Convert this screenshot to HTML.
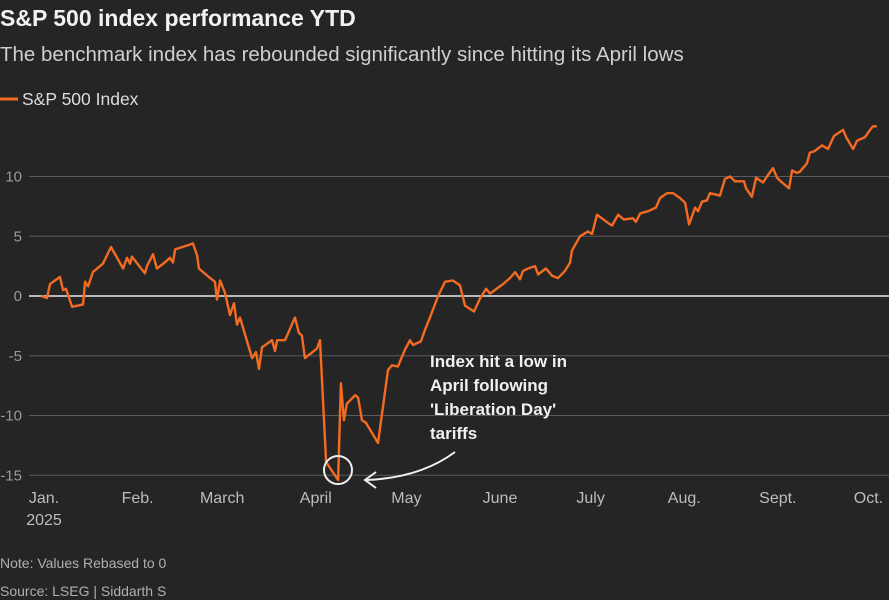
<!DOCTYPE html>
<html><head><meta charset="utf-8"><style>
html,body{margin:0;padding:0;background:#252525;}
body{width:889px;height:600px;overflow:hidden;font-family:"Liberation Sans",sans-serif;}
</style></head><body>
<svg id="chart" width="889" height="600" xmlns="http://www.w3.org/2000/svg" style="display:block">
<rect width="889" height="600" fill="#252525"/>
<text x="0" y="26" fill="#f2f2f2" font-size="23" font-weight="bold">S&amp;P 500 index performance YTD</text>
<text x="0" y="61" fill="#cfcfcf" font-size="20.5">The benchmark index has rebounded significantly since hitting its April lows</text>
<g>
<line x1="0" y1="99" x2="18" y2="99" stroke="#f26b21" stroke-width="3"/>
<text x="22" y="105" fill="#dcdcdc" font-size="17.5">S&amp;P 500 Index</text>
</g>
<g id="grid"></g><g id="xaxis"></g>
<path id="line" fill="none" stroke="#f26b21" stroke-width="2.4" stroke-linejoin="round"/>
<circle cx="338" cy="470" r="14" fill="none" stroke="#f0f0f0" stroke-width="2"/>
<path d="M455,452 Q420,478 366,480" fill="none" stroke="#f0f0f0" stroke-width="2"/>
<path d="M376,472 L365,480 L376,488" fill="none" stroke="#f0f0f0" stroke-width="2"/>
<g fill="#f0f0f0" font-size="17" font-weight="bold">
<text x="430" y="367">Index hit a low in</text>
<text x="430" y="391">April following</text>
<text x="430" y="415">'Liberation Day'</text>
<text x="430" y="439">tariffs</text>
</g>
<text x="0" y="568" fill="#b0b0b0" font-size="14">Note: Values Rebased to 0</text>
<text x="0" y="596" fill="#b0b0b0" font-size="14">Source: LSEG | Siddarth S</text>
</svg>
<script>
const days=[-1,1,2,5.3,6.3,7.3,9.3,12.9,13.6,14.6,16.2,19.5,22.2,26.2,27.5,28.5,29.1,33.4,34.1,36.1,37.4,40,41.7,42.7,43.4,48.3,49.3,50.7,51.3,55,56.6,57.3,58.3,59.9,61.6,62.9,63.9,64.9,68.9,70.2,71.2,72.2,75.5,76.5,77.2,79.8,83.1,84.4,85.4,86.4,90.4,91.4,93.4,97.4,98.3,99.3,100.3,103,104,105.3,106.6,110.6,113.9,115.2,117.2,119.5,121.2,122.2,124.8,126.2,127.8,130.5,132.8,135.4,137.7,139.4,142.4,144.4,146.4,147.7,149.3,152,154.3,156,157.6,158.6,160.3,162.6,163.6,166.2,168.2,170.2,172.5,174.2,174.8,177.5,180.1,181.5,183.1,187.4,188.1,190.1,192,195,196,197.4,200,202.6,204,206.3,208.3,210.6,212.3,213.6,215.6,216.6,217.9,219.5,220.5,223.8,225.5,227.2,228.8,231.8,232.5,234.4,235.8,238.1,239.4,241.4,242.7,244.4,246.7,247.7,249.3,250.3,252.6,253.6,255,257.6,259.6,261.6,264.6,265.6,267.9,269.2,271.9,273.5,274.5,275.8];
const values=[0,-0.17,1.0,1.6,0.5,0.6,-0.9,-0.7,1.2,0.8,2.0,2.7,4.1,2.3,3.2,2.7,3.3,1.9,2.5,3.5,2.3,2.8,3.2,2.8,3.9,4.3,4.4,3.4,2.3,1.5,1.2,-0.3,1.3,0.3,-1.6,-0.6,-2.4,-1.8,-5.2,-4.7,-6.1,-4.3,-3.7,-4.6,-3.7,-3.7,-1.8,-3.1,-3.3,-5.2,-4.4,-3.7,-13.9,-15.4,-7.3,-10.4,-9.0,-8.3,-8.5,-10.4,-10.6,-12.3,-6.2,-5.8,-5.9,-4.5,-3.7,-4.1,-3.8,-2.8,-1.8,0,1.2,1.3,0.9,-0.8,-1.3,-0.2,0.6,0.2,0.5,1.0,1.5,2.0,1.4,2.1,2.3,2.5,1.8,2.3,1.7,1.5,2.1,2.8,3.8,5.0,5.4,5.2,6.8,6.0,5.9,6.8,6.4,6.5,6.2,6.9,7.1,7.4,8.2,8.6,8.6,8.2,7.8,6.0,7.4,7.1,7.9,8.0,8.6,8.4,9.8,10.0,9.6,9.6,9.0,8.3,9.9,9.5,10.0,10.7,9.9,9.5,9.0,10.5,10.3,10.4,11.1,12.0,12.1,12.6,12.3,13.4,13.9,13.3,12.3,13.0,13.3,13.9,14.2,14.2];
const yTicks=[10,5,0,-5,-10,-15];
const monthLabels=["Jan.","Feb.","March","April","May","June","July","Aug.","Sept.","Oct."];
const monthDays=[0,31,59,90,120,151,181,212,243,273];
const NS="http://www.w3.org/2000/svg";
const xs=d=>44+3.02*d;
const ys=v=>296-11.95*v;
const grid=document.getElementById('grid');
yTicks.forEach(t=>{
  const l=document.createElementNS(NS,'line');
  
  
  l.setAttribute('x1',29);l.setAttribute('x2',889);l.setAttribute('y1',ys(t));l.setAttribute('y2',ys(t));
  l.setAttribute('stroke',t===0?'#e8e8e8':'#5a5a5a');l.setAttribute('stroke-width',t===0?1.5:1);
  grid.appendChild(l);
  const tx=document.createElementNS(NS,'text');
  
  
  tx.setAttribute('x',22);tx.setAttribute('y',ys(t)+5);tx.setAttribute('fill','#9a9a9a');tx.setAttribute('font-size','15');
  tx.setAttribute('text-anchor','end');
  tx.textContent=t;grid.appendChild(tx);
});
const xa=document.getElementById('xaxis');
monthLabels.forEach((m,i)=>{
  const tx=document.createElementNS(NS,'text');
  
  
  tx.setAttribute('x',xs(monthDays[i]));tx.setAttribute('y',503);tx.setAttribute('fill','#bdbdbd');tx.setAttribute('font-size','16');
  tx.setAttribute('text-anchor','middle');tx.textContent=m;xa.appendChild(tx);
});
const yr=document.createElementNS(NS,'text');


yr.setAttribute('x',xs(0));yr.setAttribute('y',525);yr.setAttribute('fill','#bdbdbd');yr.setAttribute('font-size','16');
yr.setAttribute('text-anchor','middle');yr.textContent='2025';xa.appendChild(yr);
document.getElementById('line').setAttribute('d',days.map((d,i)=>(i?'L':'M')+xs(d).toFixed(1)+','+ys(values[i]).toFixed(1)).join(''));
</script>
</body></html>
